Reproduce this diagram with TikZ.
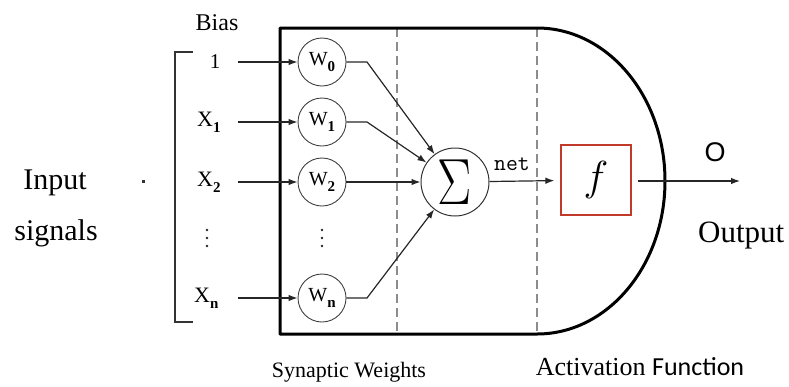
\RequirePackage{fix-cm}
\documentclass[tikz,border=0pt]{standalone}
\usepackage{fontspec}
\setmainfont{Liberation Serif}
\newfontfamily\sansf{Liberation Sans}
\newfontfamily\calf{Carlito}
\usetikzlibrary{arrows.meta}
\definecolor{boxred}{RGB}{192,57,43}
\newcommand\subs[1]{\raisebox{-6pt}{\fontsize{15}{15}\selectfont\bfseries #1}}
\begin{document}
\begin{tikzpicture}[x=1pt,y=-1pt,
  arr/.style={-{Latex[length=9pt,width=6.5pt]}, line width=1.2pt, draw=black!85},
  wnode/.style={circle, draw=black!75, line width=0.9pt, minimum size=48pt, inner sep=0pt,
    font=\fontsize{20}{20}\selectfont},
  inlbl/.style={font=\fontsize{22}{22}\selectfont, inner sep=0pt},
  dashln/.style={draw=black!45, line width=2pt, dash pattern=on 9pt off 5pt},
  biglbl/.style={font=\fontsize{30}{30}\selectfont, inner sep=0pt},
  caplbl/.style={font=\fontsize{22}{22}\selectfont, inner sep=0pt},
  dotfill/.style={fill=black!85}]
\useasboundingbox (0,0) rectangle (789,386);

% dashed separators
\coordinate (d1t) at (397,28); \coordinate (d1b) at (397,334);
\coordinate (d2t) at (537,28); \coordinate (d2b) at (537,334);
\draw[dashln] (d1t) -- (d1b);
\draw[dashln] (d2t) -- (d2b);

% neuron body
\draw[line width=3pt, line join=round] (537,28) -- (280,28) -- (280,334) -- (537,334)
  arc[start angle=-90, end angle=90, x radius=128pt, y radius=153pt];

% bracket
\draw[line width=1.4pt, draw=black!80] (193,52) -- (175,52) -- (175,322) -- (193,322);
\fill[black!80] (142,180) rectangle (145,182.5);

% labels
\node[font=\fontsize{24}{24}\selectfont, inner sep=0pt] (bias) at (217,23) {Bias};
\node[inner sep=0pt, anchor=base, font=\fontsize{21}{21}\selectfont] (in0) at (215,68) {1};
\node[inlbl, anchor=base west] (in1) at (197,126) {X\subs{1}};
\node[inlbl, anchor=base west] (in2) at (197,186) {X\subs{2}};
\node[inlbl, anchor=base west] (inn) at (194,302) {X\subs{n}};
\foreach \yy in {230,238,246} {
  \fill[dotfill] (207,\yy) circle (1.4pt);
  \fill[dotfill] (322,\yy) circle (1.4pt);
}

% weights
\node[wnode] (w0) at (322,62) {W\subs{0}};
\node[wnode] (w1) at (322,122) {W\subs{1}};
\node[wnode] (w2) at (322,182) {W\subs{2}};
\node[wnode] (wn) at (322,298) {W\subs{n}};

\coordinate (s0) at (238,62);
\coordinate (s1) at (238,122);
\coordinate (s2) at (238,182);
\coordinate (sn) at (238,298);
\draw[arr] (s0) -- (w0);
\draw[arr] (s1) -- (w1);
\draw[arr] (s2) -- (w2);
\draw[arr] (sn) -- (wn);

% summation
\node[circle, draw=black!80, line width=1pt, minimum size=68pt, inner sep=0pt] (sum) at (455,182)
  {\raisebox{-2pt}{\scalebox{0.8}[1.02]{\fontsize{64}{64}\selectfont$\Sigma$}}};

\coordinate (k0) at (367,62);
\coordinate (k1) at (367,122);
\coordinate (kn) at (367,298);
\draw[arr] (w0) -- (k0) -- (sum);
\draw[arr] (w1) -- (k1) -- (sum);
\draw[arr] (w2) -- (sum);
\draw[arr] (wn) -- (kn) -- (sum);

% activation
\node[draw=boxred, line width=1.2pt, minimum width=70pt, minimum height=70pt, inner sep=0pt,
  font=\fontsize{42}{42}\selectfont] (f) at (596,180) {$f$};
\draw[arr, shorten >=6pt] (sum) -- (f);
\node[font=\ttfamily\fontsize{23}{23}\selectfont, inner sep=0pt, anchor=base] (net) at (512,170) {net};

\coordinate (out) at (740,181);
\draw[arr, shorten <=6pt] (f.east |- out) -- (out);
\node[font=\sansf\fontsize{27}{27}\selectfont, inner sep=0pt] (o) at (715,152) {O};

% captions
\node[biglbl, anchor=base] (inp) at (55,189) {Input};
\node[biglbl, anchor=base] (sig) at (56,240) {signals};
\node[biglbl, anchor=base west, font=\fontsize{31}{31}\selectfont] (outp) at (698,242) {Output};
\node[caplbl, anchor=base] (syn) at (349,377) {Synaptic Weights};
\node[caplbl, anchor=base, font=\fontsize{26}{26}\selectfont] (act) at (640,375) {Activation {\calf Function}};
\end{tikzpicture}
\end{document}
